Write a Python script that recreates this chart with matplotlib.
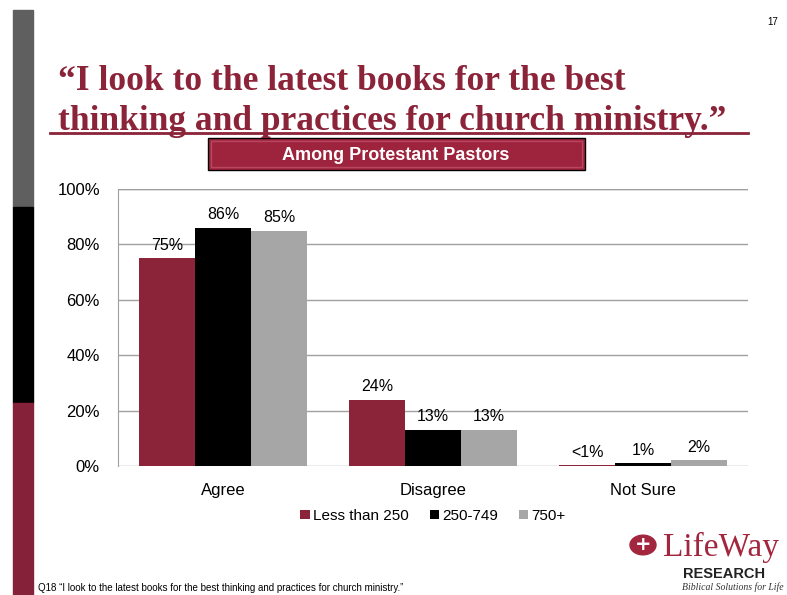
import numpy as np
import matplotlib.pyplot as plt
from matplotlib.patches import Rectangle, Circle

# survey results (percent)
categories = ["Agree", "Disagree", "Not Sure"]
groups = ["Less than 250", "250-749", "750+"]
small = [75, 24, 0.2]
medium = [86, 13, 1]
large = [85, 13, 2]
labels_small = ["75%", "24%", "<1%"]
labels_medium = ["86%", "13%", "1%"]
labels_large = ["85%", "13%", "2%"]

maroon = "#8B2339"
gray = "#A6A6A6"
W, H = 787, 595


def px(x, y):
    return x / W, 1 - y / H


fig = plt.figure(figsize=(7.87, 5.95), dpi=100)

# side band
fig.patches.append(Rectangle(px(13, 207), 20 / W, 197 / H, transform=fig.transFigure, color="#5F5F5F"))
fig.patches.append(Rectangle(px(13, 403), 20 / W, 196 / H, transform=fig.transFigure, color="black"))
fig.patches.append(Rectangle(px(13, 595), 20 / W, 192 / H, transform=fig.transFigure, color="#86213A"))

# title
fig.text(*px(58, 90), "\u201cI look to the latest books for the best", fontsize=25.5, fontweight="bold",
         family="Liberation Serif", color=maroon, va="baseline")
fig.text(*px(58, 130), "thinking and practices for church ministry.\u201d", fontsize=25.5, fontweight="bold",
         family="Liberation Serif", color=maroon, va="baseline")
fig.lines.append(plt.Line2D([50 / W, 748 / W], [1 - 133 / H] * 2, transform=fig.transFigure,
                            color=maroon, lw=2))

# subtitle box
fig.patches.append(Rectangle(px(208, 170), 377 / W, 32 / H, transform=fig.transFigure,
                             facecolor="#A3263F", edgecolor="black", lw=1))
fig.patches.append(Rectangle(px(211, 167), 371 / W, 26 / H, transform=fig.transFigure,
                             facecolor="#9E233C", edgecolor="#B84660", lw=1))
fig.text(*px(396, 155), "Among Protestant Pastors", fontsize=13, fontweight="bold",
         family="Liberation Sans", color="white", ha="center", va="center")

fig.text(*px(778, 22), "17", fontsize=7, family="Liberation Sans", ha="right", va="center")

# bar chart
ax = fig.add_axes([118 / W, 1 - 466 / H, 630 / W, 277 / H])
x = np.arange(len(categories))
bw = 0.8 / 3
series = [(small, labels_small, maroon), (medium, labels_medium, "black"), (large, labels_large, gray)]
for i, (vals, labs, col) in enumerate(series):
    bars = ax.bar(x + (i - 1) * bw, vals, bw, color=col, label=groups[i], zorder=3)
    for b, lab in zip(bars, labs):
        ax.annotate(lab, (b.get_x() + b.get_width() / 2, b.get_height()), xytext=(0, 4),
                    textcoords="offset points", ha="center", va="bottom", fontsize=11.5,
                    family="Liberation Sans")

ax.set_xlim(-0.5, 2.5)
ax.set_ylim(0, 100)
ax.set_yticks(range(0, 101, 20))
ax.set_yticklabels([f"{v}%" for v in range(0, 101, 20)])
ax.set_xticks(x)
ax.set_xticklabels(categories)
ax.grid(axis="y", color="#A0A0A0", lw=1, zorder=0)
ax.tick_params(length=0, labelsize=12)
ax.tick_params(axis="y", pad=13)
ax.tick_params(axis="x", pad=12)
for lab in ax.get_xticklabels() + ax.get_yticklabels():
    lab.set_family("Liberation Sans")
for s in ["top", "right", "bottom"]:
    ax.spines[s].set_visible(False)
ax.spines["left"].set_color("#A0A0A0")
ax.axhline(100, color="#A0A0A0", lw=1)

leg = ax.legend(loc="center", bbox_to_anchor=(0.5, -0.18), ncol=3, frameon=False,
                handlelength=0.6, handleheight=0.6, handletextpad=0.2, columnspacing=1.4,
                prop={"family": "Liberation Sans", "size": 11})

# footnote
fig.text(*px(38, 588), "Q18 \u201cI look to the latest books for the best thinking and practices for church ministry.\u201d",
         fontsize=7, family="Liberation Sans", va="center")

# logo
fig.patches.append(Circle(px(643, 545), 13 / W, transform=fig.transFigure, color="#A3263F"))
fig.text(*px(643, 545), "+", fontsize=14, fontweight="bold", color="white", ha="center", va="center")
fig.text(*px(663, 556), "LifeWay", fontsize=24, family="Liberation Serif", color="#A3263F", va="baseline")
fig.text(*px(683, 578), "RESEARCH", fontsize=10.5, fontweight="bold", family="Liberation Sans",
         color="#222222", va="baseline")
fig.text(*px(682, 590), "Biblical Solutions for Life", fontsize=7, style="italic",
         family="Liberation Serif", color="#333333", va="baseline")

fig.savefig("out.png", dpi=100)
